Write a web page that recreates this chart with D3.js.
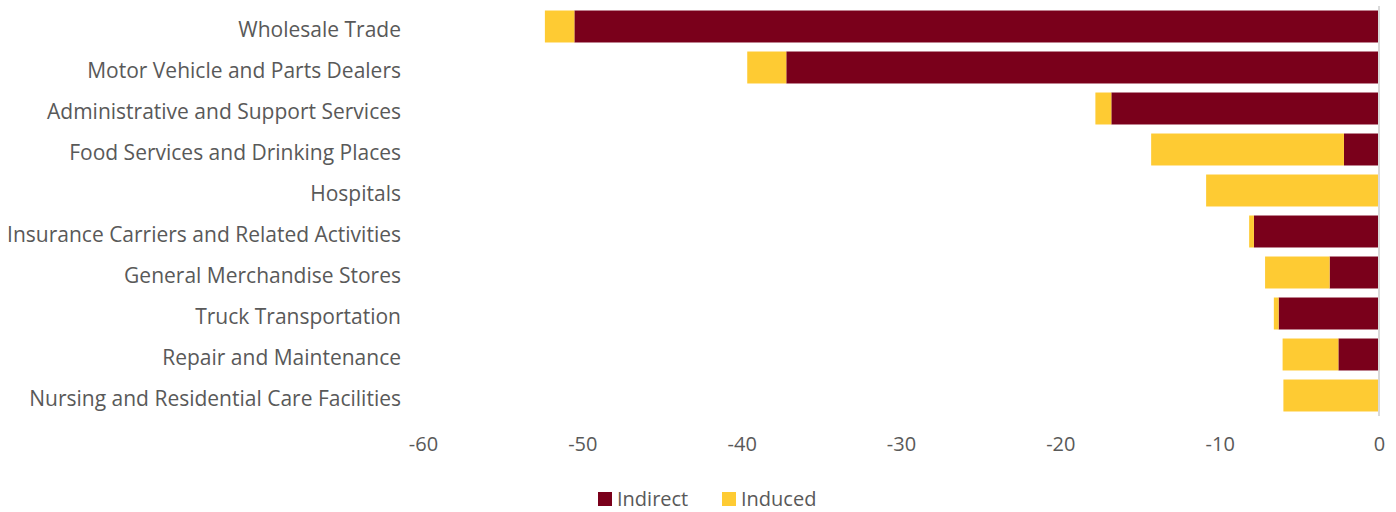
<!DOCTYPE html>
<html>
<head>
<meta charset="utf-8">
<script src="https://cdn.jsdelivr.net/npm/d3@7"></script>
<style>
  body { margin: 0; background: #fff; }
  text { font-family: "Open Sans", Lato, sans-serif; fill: #595959; }
</style>
</head>
<body>
<div id="svg-area"></div>
<script>
// chart data
var categories = [
  "Wholesale Trade",
  "Motor Vehicle and Parts Dealers",
  "Administrative and Support Services",
  "Food Services and Drinking Places",
  "Hospitals",
  "Insurance Carriers and Related Activities",
  "General Merchandise Stores",
  "Truck Transportation",
  "Repair and Maintenance",
  "Nursing and Residential Care Facilities"
];
var indirect = [-50.5, -37.2, -16.8, -2.2, 0, -7.85, -3.1, -6.3, -2.55, 0];
var induced = [-1.85, -2.45, -1.0, -12.1, -10.85, -0.3, -4.05, -0.3, -3.5, -6.0];
var xTicks = [-60, -50, -40, -30, -20, -10, 0];
var seriesNames = ["Indirect", "Induced"];
var colors = ["#7a001b", "#fecb33"];

var svgWidth = 1396;
var svgHeight = 512;

var margin = { top: 6, right: 17, bottom: 96, left: 423 };
var width = svgWidth - margin.left - margin.right;
var height = svgHeight - margin.top - margin.bottom;

var svg = d3.select("#svg-area")
  .append("svg")
  .attr("width", svgWidth)
  .attr("height", svgHeight);

var chartGroup = svg.append("g")
  .attr("transform", `translate(${margin.left}, ${margin.top})`);

var xScale = d3.scaleLinear()
  .domain([-60, 0])
  .range([0, width]);

var yScale = d3.scaleBand()
  .domain(categories)
  .range([0, height])
  .paddingInner(0.22)
  .paddingOuter(0.11);

// bars: indirect starts at 0, induced stacks past it
var rows = categories.map(function(c, i) {
  return { cat: c, indirect: indirect[i], induced: induced[i] };
});

chartGroup.selectAll(".bar-indirect")
  .data(rows)
  .enter()
  .append("rect")
  .attr("class", "bar-indirect")
  .attr("x", d => xScale(d.indirect))
  .attr("y", d => yScale(d.cat))
  .attr("width", d => xScale(0) - xScale(d.indirect))
  .attr("height", yScale.bandwidth())
  .attr("fill", colors[0]);

chartGroup.selectAll(".bar-induced")
  .data(rows)
  .enter()
  .append("rect")
  .attr("class", "bar-induced")
  .attr("x", d => xScale(d.indirect + d.induced))
  .attr("y", d => yScale(d.cat))
  .attr("width", d => xScale(d.indirect) - xScale(d.indirect + d.induced))
  .attr("height", yScale.bandwidth())
  .attr("fill", colors[1]);

// zero line
chartGroup.append("line")
  .attr("x1", xScale(0)).attr("x2", xScale(0))
  .attr("y1", 0).attr("y2", height)
  .attr("stroke", "#d9d9d9")
  .attr("stroke-width", 2);

// category labels
chartGroup.selectAll(".cat-label")
  .data(categories)
  .enter()
  .append("text")
  .attr("class", "cat-label")
  .attr("x", -22)
  .attr("y", d => yScale(d) + yScale.bandwidth() / 2)
  .attr("dy", "0.48em")
  .attr("text-anchor", "end")
  .style("font-size", "21px")
  .text(d => d);

// x axis labels
var bottomAxis = d3.axisBottom(xScale)
  .tickValues(xTicks)
  .tickFormat(d => String(d))
  .tickSize(0)
  .tickPadding(21);

var axisG = chartGroup.append("g")
  .attr("transform", `translate(0, ${height})`)
  .call(bottomAxis);
axisG.select(".domain").remove();
axisG.selectAll("text")
  .style("font-size", "20px")
  .style("font-family", "'Open Sans', Lato, sans-serif")
  .attr("fill", "#595959");

// legend
var legend = svg.append("g")
  .attr("transform", "translate(598, 492)");

var legendX = [0, 124];
seriesNames.forEach(function(name, i) {
  var item = legend.append("g").attr("transform", `translate(${legendX[i]}, 0)`);
  item.append("rect")
    .attr("width", 14)
    .attr("height", 14)
    .attr("fill", colors[i]);
  item.append("text")
    .attr("x", 19)
    .attr("y", 7)
    .attr("dy", "0.35em")
    .style("font-size", "20px")
    .text(name);
});
</script>
</body>
</html>
